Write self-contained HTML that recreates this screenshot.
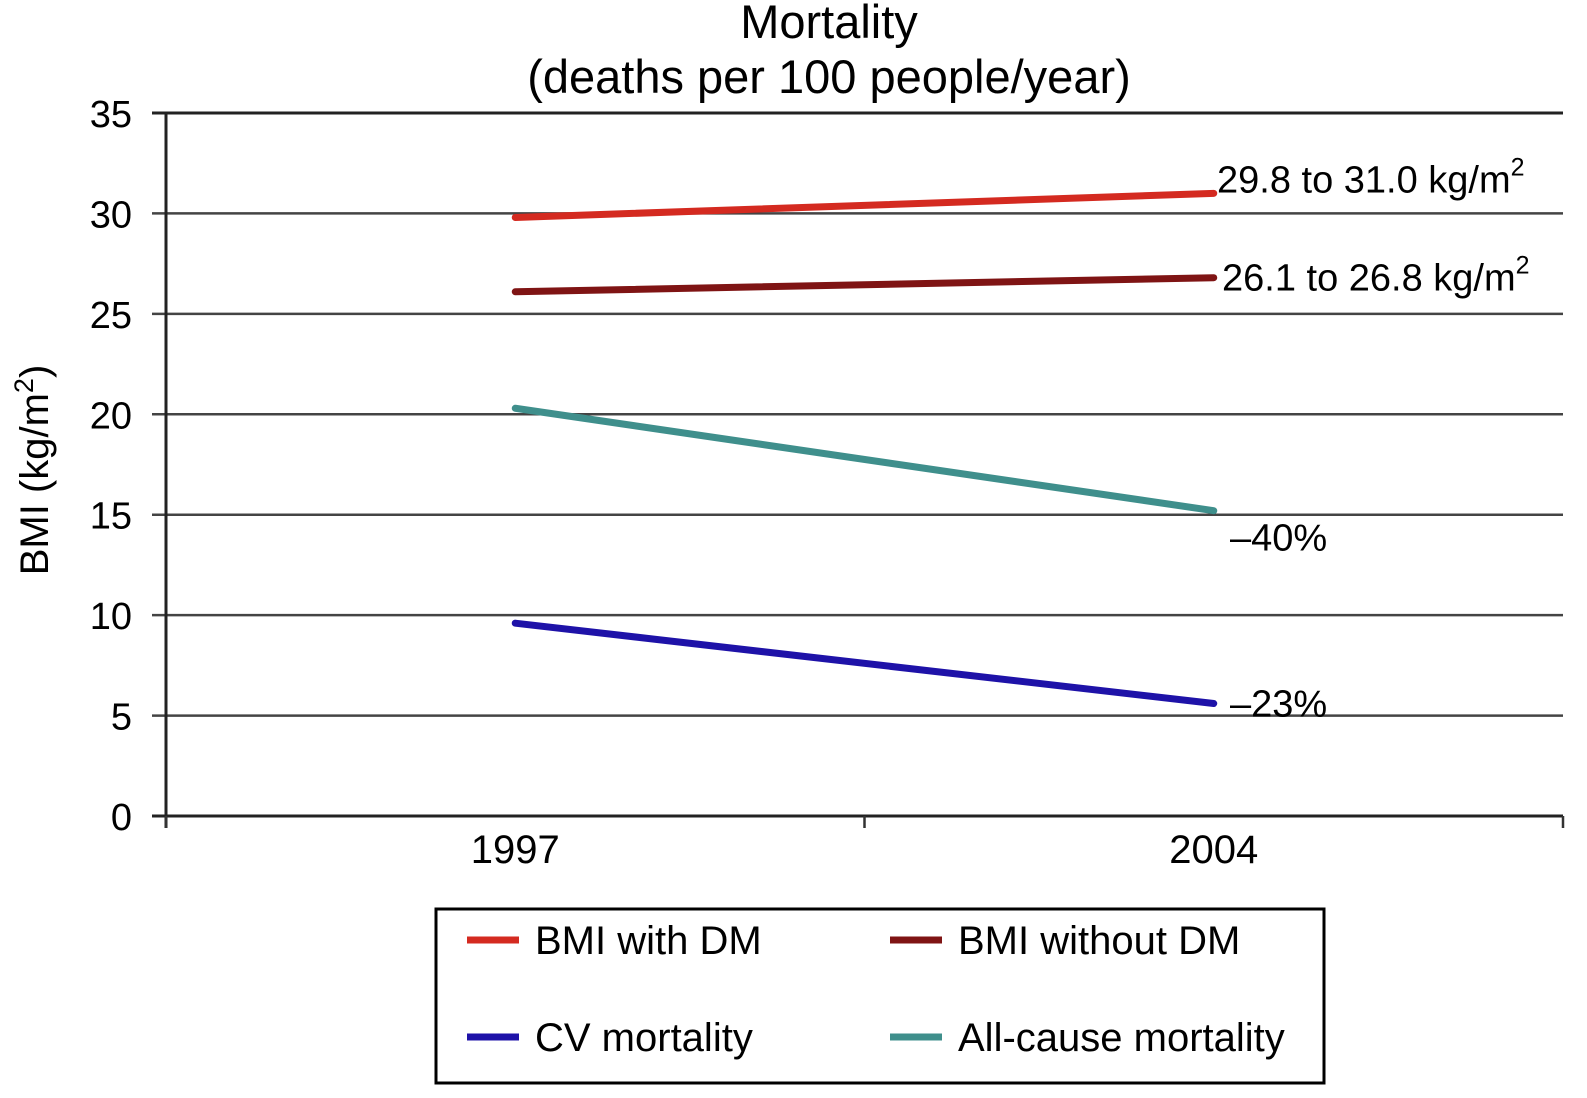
<!DOCTYPE html>
<html><head><meta charset="utf-8"><style>
html,body{margin:0;padding:0;background:#fff;}
svg{display:block;font-family:"Liberation Sans",Arial,sans-serif;}
</style></head><body>
<svg width="1587" height="1098" viewBox="0 0 1587 1098">
<g id="chart"></g>
</svg>
<script>
const categories=["1997","2004"];
const bmiWithDM=[29.8,31.0];
const bmiWithoutDM=[26.1,26.8];
const allCause=[20.3,15.2];
const cvMortality=[9.6,5.6];
const yTicks=[0,5,10,15,20,25,30,35];
const endLabels=["29.8 to 31.0 kg/m","26.1 to 26.8 kg/m","\u201340%","\u201323%"];

const NS="http://www.w3.org/2000/svg";
const g=document.getElementById('chart');
const X0=166,X1=1563,Y0=816,Y35=113;
const y=v=>Y0-(v/35)*(Y0-Y35);
const x=i=>X0+(X1-X0)*(i*2+1)/(categories.length*2);
function el(t,a,txt){const e=document.createElementNS(NS,t);for(const k in a)e.setAttribute(k,a[k]);if(txt!=null)e.textContent=txt;g.appendChild(e);return e;}

let e;
e=el('text',{x:829,y:38,'font-size':47,'text-anchor':'middle',fill:'#000'},'Mortality');


e=el('text',{x:829,y:93,'font-size':47,'text-anchor':'middle',fill:'#000'},'(deaths per 100 people/year)');



yTicks.forEach(t=>{
  const yy=y(t);
  const l=el('line',{x1:152,x2:X1,y1:yy,y2:yy,stroke:t===0||t===35?'#222':'#444','stroke-width':t===0||t===35?3:2.5});
  
  
  const tx=el('text',{x:132,y:yy+14,'font-size':38,'text-anchor':'end',fill:'#000'},String(t));
  
  
});
e=el('line',{x1:X0,x2:X0,y1:Y35,y2:Y0+12,stroke:'#222','stroke-width':3});


[X0,(X0+X1)/2,X1].forEach(xx=>{
  const t=el('line',{x1:xx,x2:xx,y1:Y0,y2:Y0+12,stroke:'#333','stroke-width':2.5});
  
  
});
categories.forEach((c,i)=>{
  const t=el('text',{x:x(i),y:863,'font-size':40,'text-anchor':'middle',fill:'#000'},c);
  
  
});
e=el('text',{transform:'translate(48,470) rotate(-90)','font-size':40,'text-anchor':'middle',fill:'#000'});
e.innerHTML='BMI (kg/m<tspan font-size="27" dy="-15">2</tspan><tspan dy="15">)</tspan>';



const series=[
  {d:bmiWithDM,c:'#d42a20',n:'series-bmi-with-dm'},
  {d:bmiWithoutDM,c:'#7f1414',n:'series-bmi-without-dm'},
  {d:allCause,c:'#3f8f8c',n:'series-all-cause-mortality'},
  {d:cvMortality,c:'#1e12a8',n:'series-cv-mortality'}
];
series.forEach(s=>{
  const l=el('line',{x1:x(0),y1:y(s.d[0]),x2:x(1),y2:y(s.d[1]),stroke:s.c,'stroke-width':7,'stroke-linecap':'round'});
  
  
});
e=el('text',{x:1217,y:y(bmiWithDM[1])-1,'font-size':38,fill:'#000'});
e.innerHTML=endLabels[0]+'<tspan font-size="25" dy="-17">2</tspan>';


e=el('text',{x:1222,y:y(bmiWithoutDM[1])+13,'font-size':38,fill:'#000'});
e.innerHTML=endLabels[1]+'<tspan font-size="25" dy="-17">2</tspan>';


e=el('text',{x:1230,y:y(allCause[1])+40,'font-size':38,fill:'#000'},endLabels[2]);


e=el('text',{x:1230,y:y(cvMortality[1])+13,'font-size':38,fill:'#000'},endLabels[3]);



e=el('rect',{x:436,y:909,width:888,height:174,fill:'#fff',stroke:'#000','stroke-width':3});


const leg=[
  {t:'BMI with DM',c:'#d42a20',x:467,y:940},
  {t:'BMI without DM',c:'#7f1414',x:890,y:940},
  {t:'CV mortality',c:'#1e12a8',x:467,y:1037},
  {t:'All-cause mortality',c:'#3f8f8c',x:890,y:1037}
];
leg.forEach(o=>{
  const l=el('line',{x1:o.x,x2:o.x+52,y1:o.y,y2:o.y,stroke:o.c,'stroke-width':7});
  
  
  const t=el('text',{x:o.x+68,y:o.y+14,'font-size':40,fill:'#000'},o.t);
  
  
});
</script>
</body></html>
